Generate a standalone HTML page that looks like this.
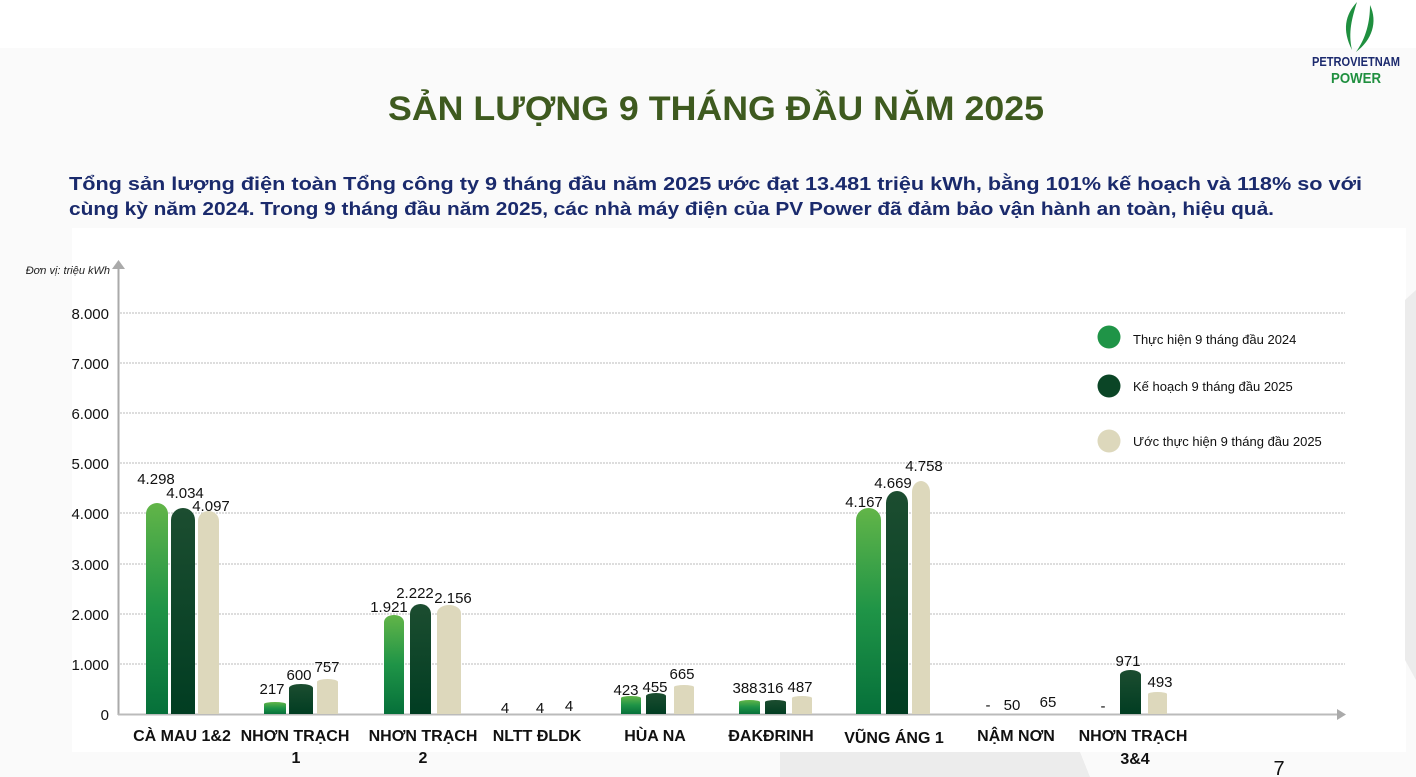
<!DOCTYPE html>
<html><head><meta charset="utf-8">
<style>
html,body{margin:0;padding:0;background:#fff;}
svg{display:block;font-family:"Liberation Sans",Arial,sans-serif;}
</style></head>
<body>
<svg width="1416" height="777" viewBox="0 0 1416 777" xmlns="http://www.w3.org/2000/svg">
<defs>
<linearGradient id="g1" x1="0" y1="0" x2="0" y2="1"><stop offset="0" stop-color="#62b548"/><stop offset="0.5" stop-color="#1f9447"/><stop offset="1" stop-color="#06703a"/></linearGradient>
<linearGradient id="g2" x1="0" y1="0" x2="0" y2="1"><stop offset="0" stop-color="#1c4d30"/><stop offset="1" stop-color="#013d22"/></linearGradient>
</defs>
<rect x="0" y="0" width="1416" height="777" fill="#fff"/>
<rect x="0" y="48" width="1416" height="729" fill="#fafafa"/>
<rect x="72" y="228" width="1334" height="524" fill="#fff"/>
<polygon points="780,777 780,752 1080,752 1090,777" fill="#ececec"/>
<polygon points="1405,300 1416,290 1416,680 1405,660" fill="#ececec"/>

<!-- logo -->
<path d="M1357,2 C1345,15 1342,30 1352,50 C1348,32 1352,18 1357,2Z" fill="#1f8f3f"/>
<path d="M1370,5 C1378,22 1372,40 1356,52 C1366,38 1370,22 1370,5Z" fill="#1f8f3f"/>
<text x="1356" y="66" font-size="13" font-weight="bold" fill="#1c2a6e" text-anchor="middle" textLength="88" lengthAdjust="spacingAndGlyphs">PETROVIETNAM</text>
<text x="1356" y="83" font-size="15" font-weight="bold" fill="#1f8f3f" text-anchor="middle" textLength="50" lengthAdjust="spacingAndGlyphs">POWER</text>

<text x="716" y="120" font-size="34" font-weight="bold" fill="#3e5a1f" text-anchor="middle" textLength="656" lengthAdjust="spacingAndGlyphs">SẢN LƯỢNG 9 THÁNG ĐẦU NĂM 2025</text>
<text x="69" y="190" font-size="18.5" font-weight="bold" fill="#1a2a6c" textLength="1293" lengthAdjust="spacingAndGlyphs">Tổng sản lượng điện toàn Tổng công ty 9 tháng đầu năm 2025 ước đạt 13.481 triệu kWh, bằng 101% kế hoạch và 118% so với</text>
<text x="69" y="215" font-size="18.5" font-weight="bold" fill="#1a2a6c" textLength="1205" lengthAdjust="spacingAndGlyphs">cùng kỳ năm 2024. Trong 9 tháng đầu năm 2025, các nhà máy điện của PV Power đã đảm bảo vận hành an toàn, hiệu quả.</text>

<text x="110" y="274" font-size="11" font-style="italic" fill="#222" text-anchor="end">Đơn vị: triệu kWh</text>

<g stroke="#bbb" stroke-width="1" stroke-dasharray="2,1">
<line x1="120" y1="313" x2="1345" y2="313"/><line x1="120" y1="363" x2="1345" y2="363"/>
<line x1="120" y1="413" x2="1345" y2="413"/><line x1="120" y1="463" x2="1345" y2="463"/>
<line x1="120" y1="513" x2="1345" y2="513"/><line x1="120" y1="564" x2="1345" y2="564"/>
<line x1="120" y1="614" x2="1345" y2="614"/><line x1="120" y1="664" x2="1345" y2="664"/>
</g>
<g font-size="15" fill="#111" text-anchor="end">
<text x="109" y="319">8.000</text><text x="109" y="369">7.000</text><text x="109" y="419">6.000</text>
<text x="109" y="469">5.000</text><text x="109" y="519">4.000</text><text x="109" y="570">3.000</text>
<text x="109" y="620">2.000</text><text x="109" y="670">1.000</text><text x="109" y="720">0</text>
</g>
<line x1="118.5" y1="268" x2="118.5" y2="715" stroke="#aaa" stroke-width="2"/>
<polygon points="118.5,260 112,269 125,269" fill="#aaa"/>
<line x1="118" y1="714.5" x2="1338" y2="714.5" stroke="#bbb" stroke-width="2"/>
<polygon points="1346,714.5 1337,709 1337,720" fill="#aaa"/>

<g>
<path d="M146,714 V514 a11,11 0 0 1 22,0 V714Z" fill="url(#g1)"/>
<path d="M171,714 V520 a12,12 0 0 1 24,0 V714Z" fill="url(#g2)"/>
<path d="M198,714 V521 a10.5,10 0 0 1 21,0 V714Z" fill="#ddd8bc"/>
<path d="M264,714 V704 a11,2 0 0 1 22,0 V714Z" fill="url(#g1)"/>
<path d="M289,714 V688 a12,4 0 0 1 24,0 V714Z" fill="url(#g2)"/>
<path d="M317,714 V682 a10.5,3 0 0 1 21,0 V714Z" fill="#ddd8bc"/>
<path d="M384,714 V622 a10,7 0 0 1 20,0 V714Z" fill="url(#g1)"/>
<path d="M410,714 V614 a10.5,10 0 0 1 21,0 V714Z" fill="url(#g2)"/>
<path d="M437,714 V613 a12,8 0 0 1 24,0 V714Z" fill="#ddd8bc"/>
<path d="M621,714 V698 a10,2 0 0 1 20,0 V714Z" fill="url(#g1)"/>
<path d="M646,714 V696 a10,3 0 0 1 20,0 V714Z" fill="url(#g2)"/>
<path d="M674,714 V687 a10,2 0 0 1 20,0 V714Z" fill="#ddd8bc"/>
<path d="M739,714 V702 a10.5,2 0 0 1 21,0 V714Z" fill="url(#g1)"/>
<path d="M765,714 V702 a10.5,2 0 0 1 21,0 V714Z" fill="url(#g2)"/>
<path d="M792,714 V698 a10,2 0 0 1 20,0 V714Z" fill="#ddd8bc"/>
<path d="M856,714 V520 a12.5,12 0 0 1 25,0 V714Z" fill="url(#g1)"/>
<path d="M886,714 V503 a11,12 0 0 1 22,0 V714Z" fill="url(#g2)"/>
<path d="M912,714 V492 a9,11 0 0 1 18,0 V714Z" fill="#ddd8bc"/>
<path d="M1120,714 V675 a10.5,5 0 0 1 21,0 V714Z" fill="url(#g2)"/>
<path d="M1148,714 V694 a9.5,2 0 0 1 19,0 V714Z" fill="#ddd8bc"/>
</g>

<g font-size="15" fill="#111" text-anchor="middle">
<text x="156" y="484">4.298</text><text x="185" y="498">4.034</text><text x="211" y="511">4.097</text>
<text x="272" y="694">217</text><text x="299" y="680">600</text><text x="327" y="672">757</text>
<text x="389" y="612">1.921</text><text x="415" y="598">2.222</text><text x="453" y="603">2.156</text>
<text x="505" y="713">4</text><text x="540" y="713">4</text><text x="569" y="711">4</text>
<text x="626" y="695">423</text><text x="655" y="692">455</text><text x="682" y="679">665</text>
<text x="745" y="693">388</text><text x="771" y="693">316</text><text x="800" y="692">487</text>
<text x="864" y="507">4.167</text><text x="893" y="488">4.669</text><text x="924" y="471">4.758</text>
<text x="988" y="710">-</text><text x="1012" y="710">50</text><text x="1048" y="707">65</text>
<text x="1103" y="711">-</text><text x="1128" y="666">971</text><text x="1160" y="687">493</text>
</g>

<g font-size="16" font-weight="bold" fill="#111" text-anchor="middle">
<text x="182" y="741">CÀ MAU 1&amp;2</text>
<text x="295" y="741">NHƠN TRẠCH</text><text x="296" y="763">1</text>
<text x="423" y="741">NHƠN TRẠCH</text><text x="423" y="763">2</text>
<text x="537" y="741">NLTT ĐLDK</text>
<text x="655" y="741">HÙA NA</text>
<text x="771" y="741">ĐAKĐRINH</text>
<text x="894" y="743">VŨNG ÁNG 1</text>
<text x="1016" y="741">NẬM NƠN</text>
<text x="1133" y="741">NHƠN TRẠCH</text><text x="1135" y="764">3&amp;4</text>
</g>

<circle cx="1109" cy="337" r="11.5" fill="#1f9447"/>
<circle cx="1109" cy="386" r="11.5" fill="#0b4526"/>
<circle cx="1109" cy="441" r="11.5" fill="#ddd8bc"/>
<g font-size="13" fill="#111">
<text x="1133" y="344">Thực hiện 9 tháng đầu 2024</text>
<text x="1133" y="391">Kế hoạch 9 tháng đầu 2025</text>
<text x="1133" y="446">Ước thực hiện 9 tháng đầu 2025</text>
</g>

<text x="1279" y="775" font-size="20" fill="#111" text-anchor="middle">7</text>
</svg>
</body></html>
